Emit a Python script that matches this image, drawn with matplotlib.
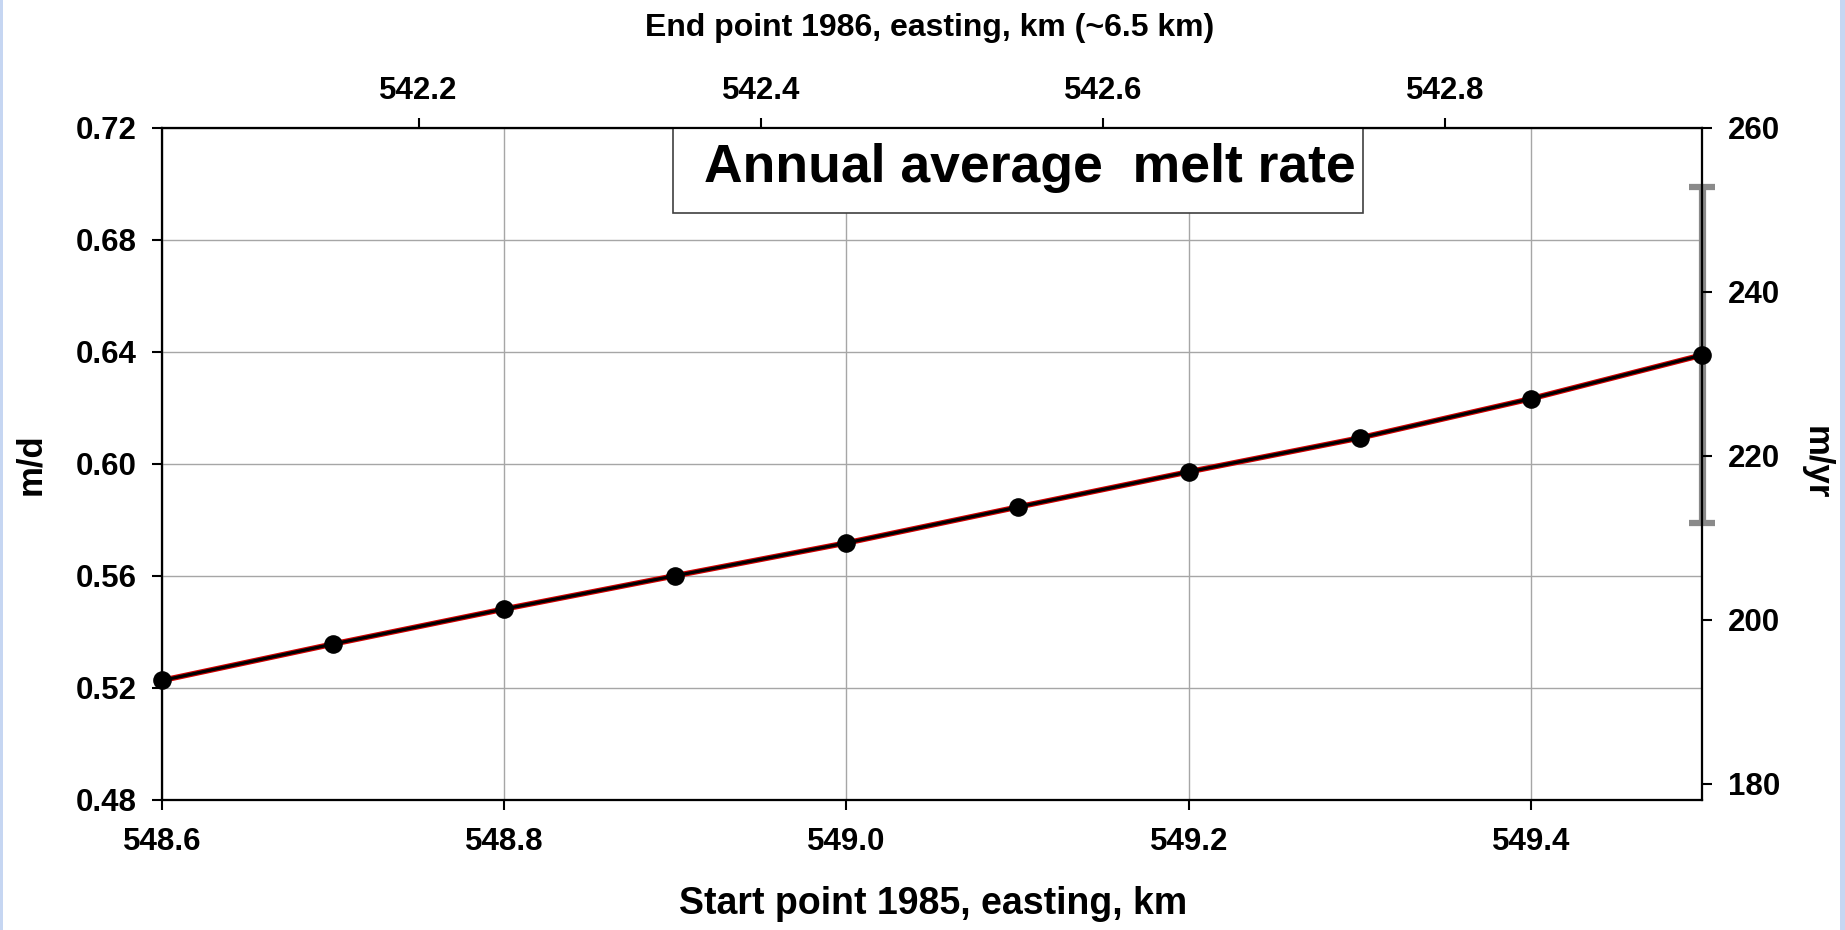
import matplotlib.pyplot as plt
from matplotlib.patches import Rectangle
from matplotlib.ticker import FormatStrFormatter

# start point easting (1985, km) and annual average melt rate (m/d)
easting_1985 = [548.6, 548.7, 548.8, 548.9, 549.0, 549.1, 549.2, 549.3, 549.4, 549.5]
melt_md = [0.5227, 0.5357, 0.5482, 0.5601, 0.5718, 0.5846, 0.5972, 0.6093, 0.6233, 0.6389]

# uncertainty of the melt rate at the end of the profile, m/yr
err_x = [549.5]
err_myr = [232.3]
err_half_myr = [20.5]

bottom_ticks = [548.6, 548.8, 549.0, 549.2, 549.4]
top_ticks = [542.2, 542.4, 542.6, 542.8]
left_ticks = [0.48, 0.52, 0.56, 0.60, 0.64, 0.68, 0.72]
right_ticks = [180, 200, 220, 240, 260]

x_lim = (548.6, 549.5)
top_lim = (542.05, 542.95)
md_lim = (0.48, 0.72)
myr_lim = (178, 260)

plt.rcParams['font.family'] = ['Liberation Sans', 'DejaVu Sans']
plt.rcParams['font.weight'] = 'bold'

fig = plt.figure(figsize=(18.45, 9.3), dpi=100)
ax = fig.add_axes([0.0878, 0.1398, 0.8347, 0.7226])
ax2 = ax.twinx()
ax3 = ax.twiny()

ax.set_xlim(*x_lim)
ax.set_ylim(*md_lim)
ax2.set_ylim(*myr_lim)
ax3.set_xlim(*top_lim)

ax.set_xticks(bottom_ticks)
ax.set_yticks(left_ticks)
ax2.set_yticks(right_ticks)
ax3.set_xticks(top_ticks)
ax.xaxis.set_major_formatter(FormatStrFormatter('%.1f'))
ax.yaxis.set_major_formatter(FormatStrFormatter('%.2f'))
ax3.xaxis.set_major_formatter(FormatStrFormatter('%.1f'))

ax.set_axisbelow(True)
ax.grid(True, color='#a6a6a6', linewidth=1.0)

# error bar, converted from m/yr into the m/d scale of the main axis
scale = (md_lim[1] - md_lim[0]) / (myr_lim[1] - myr_lim[0])
err_md = [md_lim[0] + (v - myr_lim[0]) * scale for v in err_myr]
err_half_md = [h * scale for h in err_half_myr]
eb = ax.errorbar(err_x, err_md, yerr=err_half_md, fmt='none', ecolor='#8a8a8a',
                 elinewidth=5.2, capsize=9.7, capthick=4.5, zorder=1.5)
for art in list(eb.lines[1]) + list(eb.lines[2]):
    art.set_clip_on(False)

# melt rate curve: black line with a red edge
ax.plot(easting_1985, melt_md, color='#d00000', linewidth=4.0, zorder=3, clip_on=False)
ax.plot(easting_1985, melt_md, color='black', linewidth=2.3, zorder=3.1, clip_on=False)
ax.plot(easting_1985, melt_md, 'o', color='black', markersize=12.4, zorder=3.2, clip_on=False)

for a in (ax, ax2, ax3):
    for s in a.spines.values():
        s.set_linewidth(1.5)
        s.set_color('black')

ax.tick_params(axis='x', direction='out', length=7.5, width=1.5, labelsize=22.5, pad=12)
ax.tick_params(axis='y', direction='out', length=7.5, width=1.5, labelsize=22.5, pad=11)
ax2.tick_params(axis='y', direction='out', length=7.5, width=1.5, labelsize=22.5, pad=11)
ax3.tick_params(axis='x', direction='out', length=7.5, width=1.5, labelsize=22.5, pad=8)

# title box
ax.add_patch(Rectangle((0.3318, 0.8735), 0.4481, 0.1265, transform=ax.transAxes,
                       facecolor='white', edgecolor='#404040', linewidth=1.2, zorder=5))
ax.text(0.3517, 0.9397, 'Annual average  melt rate', transform=ax.transAxes,
        fontsize=38.5, fontweight='bold', ha='left', va='center', zorder=6)

fig.text(933 / 1845, 1 - 904 / 930, 'Start point 1985, easting, km',
         fontsize=27, fontweight='bold', ha='center', va='center')
fig.text(930 / 1845, 1 - 28 / 930, 'End point 1986, easting, km (~6.5 km)',
         fontsize=23, fontweight='bold', ha='center', va='center')
fig.text(31 / 1845, 1 - 464 / 930, 'm/d', fontsize=25, fontweight='bold',
         rotation=90, ha='center', va='center')
fig.text(1816 / 1845, 1 - 463 / 930, 'm/yr', fontsize=25, fontweight='bold',
         rotation=270, ha='center', va='center')

# light blue frame strips at the sides
fig.patches.append(Rectangle((0, 0), 3 / 1845, 1, transform=fig.transFigure,
                             facecolor='#c6d6f2', edgecolor='none'))
fig.patches.append(Rectangle((1840 / 1845, 0), 5 / 1845, 1, transform=fig.transFigure,
                             facecolor='#c6d6f2', edgecolor='none'))

fig.savefig('out.png', dpi=100)
